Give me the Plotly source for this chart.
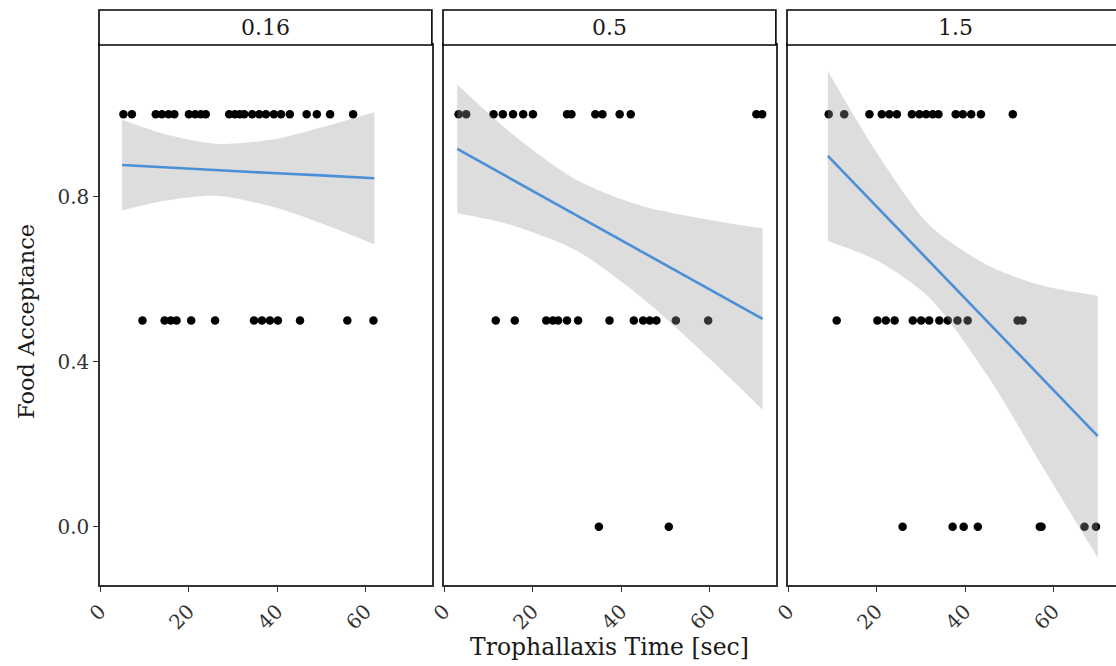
import plotly.graph_objects as go

W, H = 1116, 666
FONT = "DejaVu Serif"

# ---------------- data ----------------
panels = ["0.16", "0.5", "1.5"]

p1_x1 = [5.3, 7.2, 12.6, 14.0, 15.5, 16.8, 20.1, 21.5, 22.8, 23.9, 29.2, 30.5, 31.6, 32.6,
         34.4, 36.0, 37.5, 39.3, 40.9, 42.9, 46.7, 49.0, 52.0, 57.2]
p1_x05 = [9.6, 14.6, 16.0, 17.3, 20.6, 26.0, 34.8, 36.6, 38.4, 40.2, 45.2, 55.9, 61.8]
p1_x0 = []

p2_x1 = [3.3, 5.0, 11.2, 13.3, 15.6, 17.9, 20.1, 27.8, 28.8, 34.2, 35.8, 39.7, 42.2, 70.6, 71.9]
p2_x05 = [11.7, 16.0, 23.1, 24.6, 25.8, 27.8, 30.3, 37.4, 42.9, 45.0, 46.5, 48.0, 52.4, 59.7]
p2_x0 = [35.0, 50.8]

p3_x1 = [9.2, 12.7, 18.4, 21.2, 22.9, 24.6, 28.0, 29.7, 31.2, 32.7, 34.0, 37.9, 39.5, 41.4,
         43.6, 50.8]
p3_x05 = [11.0, 20.2, 22.1, 24.1, 28.2, 30.1, 31.9, 34.2, 36.1, 38.3, 40.6, 51.9, 53.0]
p3_x0 = [25.9, 37.2, 39.7, 42.9, 56.9, 57.3, 67.0, 69.6]

# fitted line and confidence band, read at a few x positions
p1_fx = [5, 15, 26.6, 40, 50, 62]
p1_fy = [0.877, 0.871, 0.865, 0.857, 0.852, 0.845]
p1_lo = [0.767, 0.791, 0.802, 0.773, 0.736, 0.685]
p1_hi = [0.987, 0.951, 0.928, 0.941, 0.968, 1.005]

p2_fx = [3, 15, 30, 45, 60, 72]
p2_fy = [0.916, 0.844, 0.755, 0.665, 0.576, 0.504]
p2_lo = [0.760, 0.732, 0.669, 0.553, 0.408, 0.284]
p2_hi = [1.072, 0.956, 0.841, 0.777, 0.744, 0.724]

p3_fx = [9, 20, 32, 45, 57, 70]
p3_fy = [0.899, 0.777, 0.643, 0.498, 0.365, 0.220]
p3_lo = [0.693, 0.646, 0.555, 0.368, 0.155, -0.075]
p3_hi = [1.105, 0.908, 0.731, 0.635, 0.586, 0.560]

x_ticks = [0, 20, 40, 60]
y_ticks = [0.0, 0.4, 0.8]
y_tick_text = ["0.0", "0.4", "0.8"]

# ---------------- figure ----------------
def px_x(p):
    return p / W

def px_y(p):
    return 1 - p / H

fig = go.Figure()

panel_data = [
    (p1_x1, p1_x05, p1_x0, p1_fx, p1_fy, p1_lo, p1_hi),
    (p2_x1, p2_x05, p2_x0, p2_fx, p2_fy, p2_lo, p2_hi),
    (p3_x1, p3_x05, p3_x0, p3_fx, p3_fy, p3_lo, p3_hi),
]

LINE_BLUE = "#4b8fd6"
BAND = "rgba(153,153,153,0.33)"

for i, (x1, x05, x0, fx, fy, lo, hi) in enumerate(panel_data):
    ax = "" if i == 0 else str(i + 1)
    xs = x1 + x05 + x0
    ys = [1.0] * len(x1) + [0.5] * len(x05) + [0.0] * len(x0)
    fig.add_trace(go.Scatter(x=xs, y=ys, mode="markers",
                             marker=dict(color="black", size=8.5, line=dict(width=0)),
                             xaxis="x" + ax, yaxis="y" + ax, showlegend=False,
                             hoverinfo="skip"))
    fig.add_trace(go.Scatter(x=fx, y=lo, mode="lines",
                             line=dict(width=0, shape="spline", smoothing=0.8),
                             xaxis="x" + ax, yaxis="y" + ax, showlegend=False,
                             hoverinfo="skip"))
    fig.add_trace(go.Scatter(x=fx, y=hi, mode="lines", fill="tonexty", fillcolor=BAND,
                             line=dict(width=0, shape="spline", smoothing=0.8),
                             xaxis="x" + ax, yaxis="y" + ax, showlegend=False,
                             hoverinfo="skip"))
    fig.add_trace(go.Scatter(x=fx, y=fy, mode="lines",
                             line=dict(color=LINE_BLUE, width=2.6),
                             xaxis="x" + ax, yaxis="y" + ax, showlegend=False,
                             hoverinfo="skip"))

# panel geometry in pixels
panel_left = [100, 444, 788]
unit_px = 4.425
panel_top, panel_bottom = 45, 585
y_range = [-0.141, 1.168]

layout = dict(
    width=W, height=H,
    margin=dict(l=0, r=0, t=0, b=0, autoexpand=False),
    paper_bgcolor="white", plot_bgcolor="white",
    showlegend=False,
    font=dict(family=FONT, color="#333333"),
)

for i in range(3):
    ax = "" if i == 0 else str(i + 1)
    left = panel_left[i]
    right = min(left + 75 * unit_px, W)
    xr = [0, (right - left) / unit_px]
    last = (i == 2)
    layout["xaxis" + ax] = dict(
        domain=[px_x(left), px_x(right)], range=xr, anchor="y" + ax,
        tickvals=x_ticks, ticktext=[str(v) for v in x_ticks], tickangle=-45,
        ticks="outside", ticklen=5, tickwidth=1.3, tickcolor="#333333",
        tickfont=dict(family=FONT, size=20, color="#333333"),
        showline=True, linecolor="#333333", linewidth=1.5, mirror=True,
        showgrid=False, zeroline=False, automargin=False,
    )
    layout["yaxis" + ax] = dict(
        domain=[px_y(panel_bottom), px_y(panel_top)], range=y_range, anchor="x" + ax,
        tickvals=y_ticks, ticktext=y_tick_text if i == 0 else [""] * 3,
        ticks="outside" if i == 0 else "", ticklen=5, tickwidth=1.3, tickcolor="#333333",
        tickfont=dict(family=FONT, size=20, color="#333333"),
        showline=True, linecolor="#333333", linewidth=1.5, mirror=(not last),
        showgrid=False, zeroline=False, automargin=False,
    )

shapes = []
annotations = []
for i in range(3):
    left = panel_left[i] - 1
    right = min(panel_left[i] + 75 * unit_px, W + 2)
    shapes.append(dict(type="rect", xref="paper", yref="paper",
                       x0=px_x(left), x1=px_x(right),
                       y0=px_y(45), y1=px_y(10),
                       line=dict(color="black", width=1.6), fillcolor="white", layer="above"))
    annotations.append(dict(text=panels[i], xref="paper", yref="paper",
                            x=px_x((left + min(right, W)) / 2 + (0 if i < 2 else 4)),
                            y=px_y(27.5), showarrow=False, xanchor="center", yanchor="middle",
                            font=dict(family=FONT, size=22, color="#1a1a1a")))

annotations.append(dict(text="Food Acceptance", xref="paper", yref="paper",
                        x=px_x(26), y=px_y(322), textangle=-90, showarrow=False,
                        xanchor="center", yanchor="middle",
                        font=dict(family=FONT, size=22.5, color="#1a1a1a")))
annotations.append(dict(text="Trophallaxis Time [sec]", xref="paper", yref="paper",
                        x=px_x(609), y=px_y(647), showarrow=False,
                        xanchor="center", yanchor="middle",
                        font=dict(family=FONT, size=23.5, color="#1a1a1a")))

layout["shapes"] = shapes
layout["annotations"] = annotations
fig.update_layout(**layout)

fig.write_html("out.html")
